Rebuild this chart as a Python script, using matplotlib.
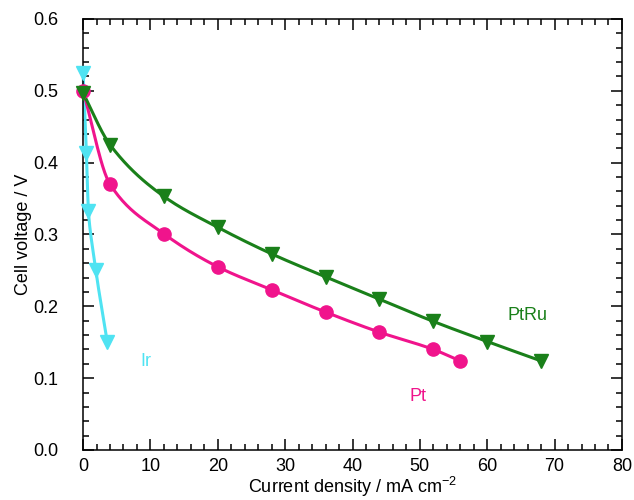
import matplotlib
matplotlib.use("Agg")
import matplotlib.pyplot as plt
import numpy as np
from matplotlib.ticker import MultipleLocator, FormatStrFormatter

plt.rcParams["font.family"] = ["Liberation Sans", "DejaVu Sans"]
plt.rcParams["mathtext.default"] = "regular"

# data
pt_j = [0, 4, 12, 20, 28, 36, 44, 52, 56]
pt_v = [0.500, 0.370, 0.301, 0.255, 0.223, 0.192, 0.164, 0.140, 0.124]

ptru_j = [0, 4, 12, 20, 28, 36, 44, 52, 60, 68]
ptru_v = [0.497, 0.425, 0.353, 0.310, 0.273, 0.241, 0.210, 0.179, 0.151, 0.124]

ir_j = [0, 0.5, 0.8, 1.9, 3.6]
ir_v = [0.525, 0.413, 0.333, 0.250, 0.150]

PT_C = "#f0148c"
PTRU_C = "#1a801a"
IR_C = "#4fe3f2"


def pchip(x, y, n=200):
    """Monotone cubic (PCHIP) curve through the points, for drawing only."""
    x = np.asarray(x, float)
    y = np.asarray(y, float)
    h = np.diff(x)
    d = np.diff(y) / h
    m = np.zeros_like(y)
    for k in range(1, len(x) - 1):
        if d[k - 1] * d[k] > 0:
            w1 = 2 * h[k] + h[k - 1]
            w2 = h[k] + 2 * h[k - 1]
            m[k] = (w1 + w2) / (w1 / d[k - 1] + w2 / d[k])
    m[0] = d[0]
    m[-1] = d[-1]
    xs, ys = [], []
    for k in range(len(x) - 1):
        t = np.linspace(0, 1, n // (len(x) - 1) + 2)
        h00 = 2 * t**3 - 3 * t**2 + 1
        h10 = t**3 - 2 * t**2 + t
        h01 = -2 * t**3 + 3 * t**2
        h11 = t**3 - t**2
        xs.append(x[k] + t * h[k])
        ys.append(h00 * y[k] + h10 * h[k] * m[k] + h01 * y[k + 1] + h11 * h[k] * m[k + 1])
    return np.concatenate(xs), np.concatenate(ys)


fig = plt.figure(figsize=(6.34, 5.0), dpi=100)
ax = fig.add_axes([0.131, 0.1, 0.85, 0.862])

for j, v, c, mk, ms in [(ir_j, ir_v, IR_C, "v", 10),
                        (pt_j, pt_v, PT_C, "o", 9.5),
                        (ptru_j, ptru_v, PTRU_C, "v", 10)]:
    if c == IR_C:
        # Ir: curve parameterised along voltage (steep, near-vertical)
        yy, xx = pchip(v[::-1], j[::-1])
    else:
        xx, yy = pchip(j, v)
    ax.plot(xx, yy, color=c, lw=2.2, clip_on=False, zorder=2)
    ax.plot(j, v, ls="none", marker=mk, ms=ms, color=c, mec=c, clip_on=False, zorder=3)

ax.text(66.0, 0.187, "PtRu", color=PTRU_C, fontsize=13, ha="center", va="center")
ax.text(49.7, 0.074, "Pt", color=PT_C, fontsize=13, ha="center", va="center")
ax.text(9.3, 0.123, "Ir", color=IR_C, fontsize=13, ha="center", va="center")

ax.set_xlim(0, 80)
ax.set_ylim(0, 0.6)
ax.xaxis.set_major_locator(MultipleLocator(10))
ax.xaxis.set_minor_locator(MultipleLocator(2))
ax.yaxis.set_major_locator(MultipleLocator(0.1))
ax.yaxis.set_minor_locator(MultipleLocator(0.02))
ax.yaxis.set_major_formatter(FormatStrFormatter("%.1f"))
ax.tick_params(which="both", direction="in", top=True, right=True, labelsize=13, width=1.1)
ax.tick_params(which="major", length=8)
ax.tick_params(which="minor", length=4)
ax.tick_params(axis="x", which="major", pad=6)
ax.tick_params(axis="y", which="major", pad=18)
for s in ax.spines.values():
    s.set_linewidth(1.1)

ax.set_xlabel("Current density / mA cm$^{-2}$", fontsize=13, labelpad=0)
ax.set_ylabel("Cell voltage / V", fontsize=13, labelpad=12)
ax.yaxis.set_label_coords(-0.095, 0.5)

fig.savefig("out.png", dpi=100)
